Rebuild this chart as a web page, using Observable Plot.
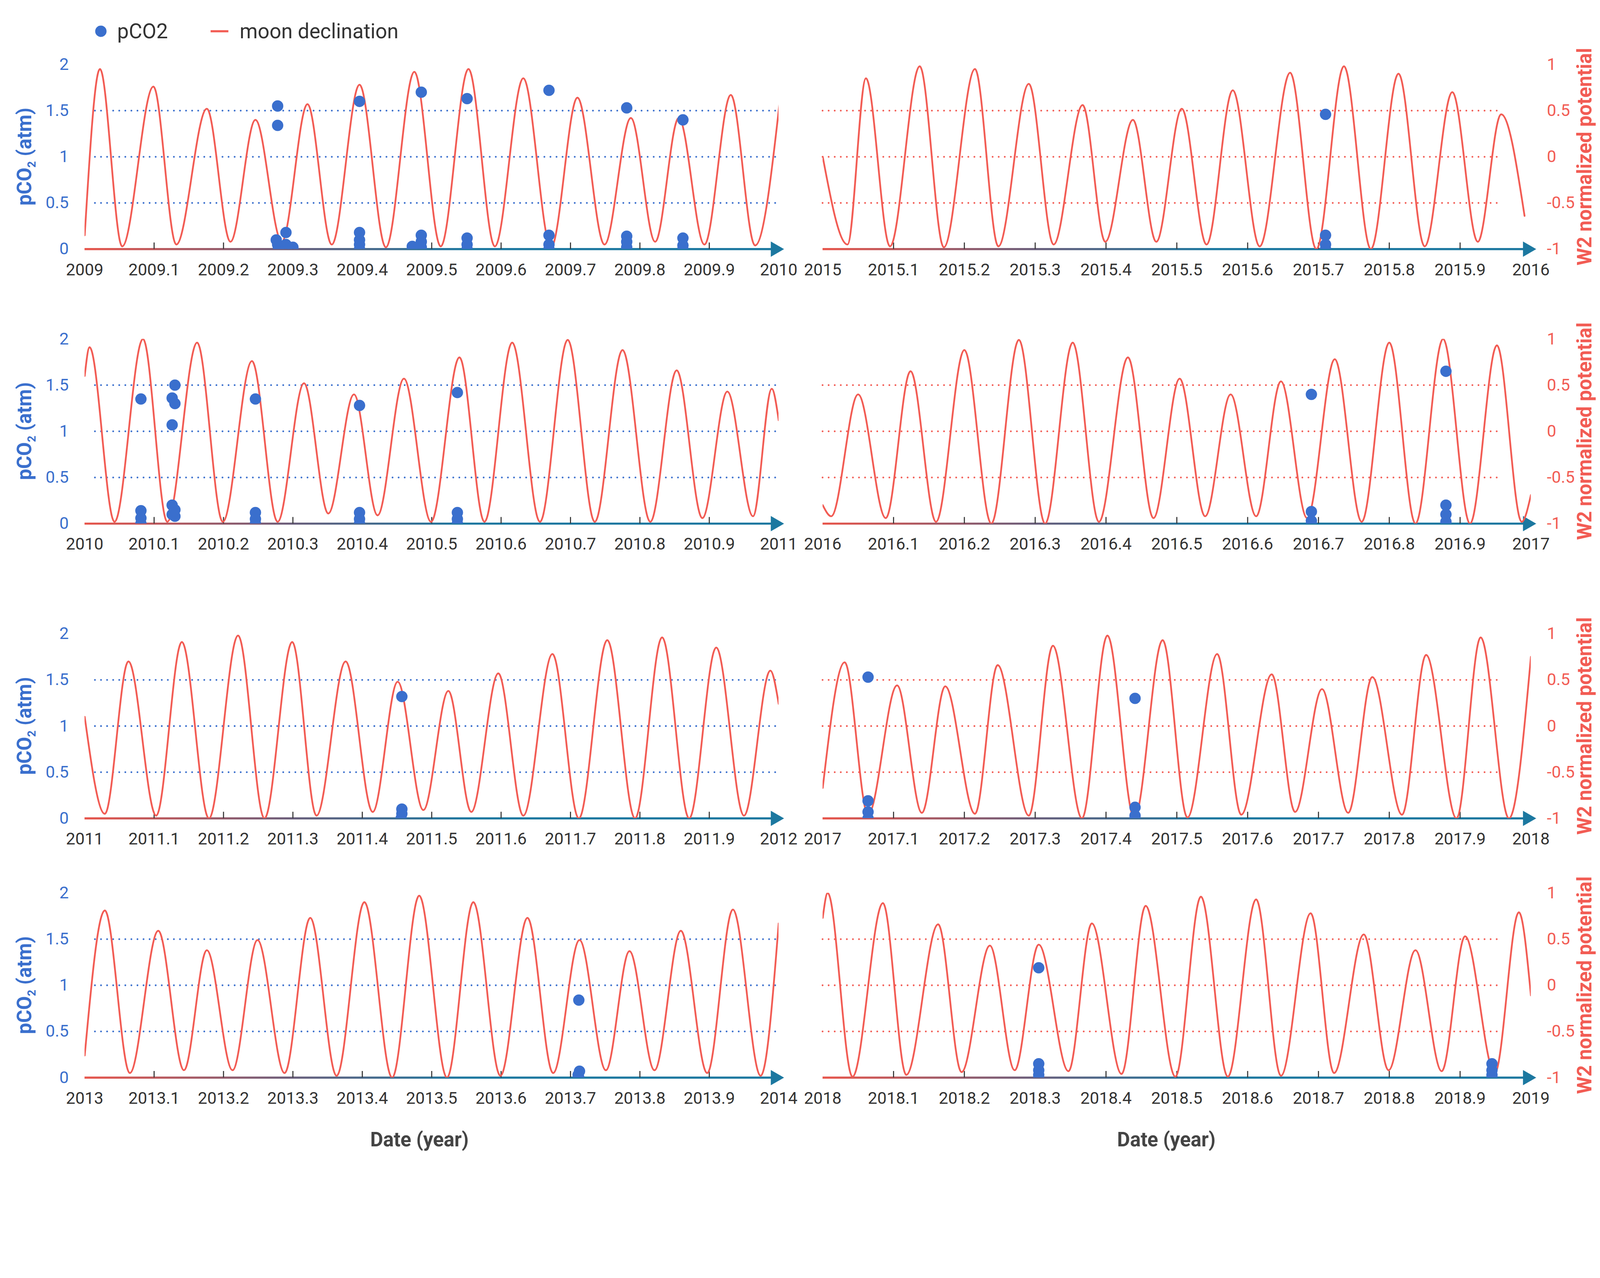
<!DOCTYPE html>
<html>
<head>
<meta charset="utf-8">
<script src="https://cdn.jsdelivr.net/npm/d3@7"></script>
<script src="https://cdn.jsdelivr.net/npm/@observablehq/plot@0.6"></script>
<style>
  html, body { margin: 0; background: #fff; font-family: Roboto, sans-serif; overflow: hidden; }
  #root { position: relative; width: 4505px; height: 3272px; overflow: hidden; transform-origin: 0 0; }
  .panel { position: absolute; }
  .title { position: absolute; font-weight: bold; font-size: 56px; white-space: nowrap; }
  .rot { transform: translate(-50%, -50%) rotate(-90deg); }
  .legend { position: absolute; top: 54px; left: 268px; font-size: 58px; color: #333; display: flex; align-items: center; }
</style>
</head>
<body>
<div id="root">
  <div class="legend">
    <span style="display:inline-block;width:32px;height:32px;border-radius:50%;background:#3a6fcd;margin-right:30px"></span>pCO2
    <span style="display:inline-block;width:50px;height:6px;background:#f25c54;margin:0 32px 0 120px"></span>moon declination
  </div>
</div>
<script>
// moon declination curve, extrema: [year, value]
// left panels are read on the pCO2 axis (0..2), right panels on the W2 axis (-1..1)
const moon2009 = [[2009.0,0.15],[2009.022,1.95],[2009.054,0.03],[2009.099,1.76],[2009.132,0.05],[2009.176,1.52],[2009.21,0.08],[2009.246,1.40],[2009.284,0.08],[2009.321,1.57],[2009.356,0.05],[2009.396,1.78],[2009.434,0.02],[2009.475,1.92],[2009.513,0.03],[2009.553,1.95],[2009.591,0.03],[2009.632,1.85],[2009.672,0.02],[2009.71,1.64],[2009.749,0.05],[2009.787,1.42],[2009.822,0.08],[2009.856,1.42],[2009.893,0.05],[2009.931,1.67],[2009.966,0.04],[2010.003,1.70]];
const moon2010 = [[2010.0,1.6],[2010.007,1.91],[2010.043,0.02],[2010.084,2.0],[2010.119,0.02],[2010.162,1.96],[2010.199,0.02],[2010.241,1.76],[2010.278,0.02],[2010.316,1.52],[2010.351,0.11],[2010.388,1.40],[2010.422,0.09],[2010.46,1.57],[2010.499,0.02],[2010.54,1.80],[2010.576,0.02],[2010.616,1.96],[2010.656,0.02],[2010.696,1.99],[2010.735,0.02],[2010.775,1.88],[2010.815,0.02],[2010.853,1.66],[2010.89,0.06],[2010.926,1.43],[2010.963,0.08],[2010.99,1.46],[2011.0,1.12]];
const moon2011 = [[2011.0,1.1],[2011.029,0.05],[2011.063,1.70],[2011.103,0.03],[2011.14,1.91],[2011.179,0.0],[2011.221,1.98],[2011.259,0.0],[2011.299,1.91],[2011.334,0.03],[2011.376,1.70],[2011.415,0.07],[2011.451,1.48],[2011.488,0.09],[2011.524,1.38],[2011.557,0.07],[2011.596,1.57],[2011.632,0.03],[2011.674,1.78],[2011.712,0.0],[2011.753,1.93],[2011.793,0.0],[2011.832,1.96],[2011.871,0.0],[2011.91,1.85],[2011.95,0.03],[2011.988,1.60],[2012.0,1.24]];
const moon2013 = [[2013.0,0.24],[2013.029,1.81],[2013.065,0.05],[2013.106,1.59],[2013.143,0.08],[2013.176,1.38],[2013.213,0.08],[2013.249,1.49],[2013.288,0.05],[2013.325,1.73],[2013.363,0.02],[2013.403,1.90],[2013.443,0.0],[2013.482,1.97],[2013.522,0.0],[2013.56,1.90],[2013.599,0.02],[2013.638,1.73],[2013.675,0.05],[2013.713,1.49],[2013.751,0.08],[2013.785,1.37],[2013.821,0.08],[2013.859,1.59],[2013.897,0.05],[2013.934,1.82],[2013.974,0.02],[2014.0,1.67]];
const moon2015 = [[2015.0,0.0],[2015.035,-0.95],[2015.061,0.85],[2015.095,-0.97],[2015.137,0.98],[2015.171,-0.98],[2015.215,0.95],[2015.248,-0.97],[2015.291,0.79],[2015.326,-0.95],[2015.367,0.56],[2015.399,-0.92],[2015.438,0.40],[2015.471,-0.92],[2015.507,0.52],[2015.542,-0.95],[2015.579,0.72],[2015.617,-0.97],[2015.66,0.91],[2015.697,-1.0],[2015.736,0.98],[2015.774,-1.0],[2015.813,0.90],[2015.85,-0.97],[2015.889,0.70],[2015.925,-0.92],[2015.958,0.46],[2015.991,-0.64]];
const moon2016 = [[2016.0,-0.80],[2016.012,-0.92],[2016.05,0.40],[2016.089,-0.94],[2016.124,0.65],[2016.16,-0.98],[2016.2,0.88],[2016.238,-1.0],[2016.277,0.99],[2016.314,-1.0],[2016.353,0.96],[2016.39,-0.98],[2016.431,0.80],[2016.467,-0.94],[2016.504,0.57],[2016.54,-0.92],[2016.576,0.40],[2016.612,-0.92],[2016.647,0.54],[2016.684,-0.94],[2016.723,0.78],[2016.761,-0.98],[2016.8,0.96],[2016.837,-1.0],[2016.876,1.0],[2016.914,-1.0],[2016.952,0.93],[2016.987,-0.98],[2017.0,-0.69]];
const moon2017 = [[2017.0,-0.67],[2017.031,0.69],[2017.064,-0.96],[2017.105,0.44],[2017.14,-0.94],[2017.173,0.43],[2017.215,-0.95],[2017.247,0.66],[2017.291,-0.97],[2017.325,0.87],[2017.366,-1.0],[2017.402,0.98],[2017.44,-1.0],[2017.48,0.93],[2017.515,-0.99],[2017.557,0.78],[2017.591,-0.96],[2017.634,0.56],[2017.667,-0.93],[2017.705,0.40],[2017.742,-0.94],[2017.776,0.53],[2017.818,-0.96],[2017.852,0.77],[2017.895,-1.0],[2017.929,0.96],[2017.969,-1.0],[2018.0,0.75]];
const moon2018 = [[2018.0,0.73],[2018.007,1.0],[2018.042,-0.99],[2018.085,0.89],[2018.118,-0.97],[2018.163,0.66],[2018.196,-0.94],[2018.236,0.43],[2018.271,-0.92],[2018.305,0.44],[2018.347,-0.93],[2018.38,0.67],[2018.422,-0.96],[2018.456,0.86],[2018.498,-0.99],[2018.534,0.96],[2018.572,-0.99],[2018.612,0.93],[2018.647,-0.98],[2018.689,0.78],[2018.722,-0.95],[2018.764,0.55],[2018.799,-0.92],[2018.837,0.38],[2018.874,-0.93],[2018.907,0.53],[2018.949,-0.95],[2018.983,0.79],[2019.0,-0.11]];

// pCO2 samples [year, atm]
const pco2_2009 = [[2009.278,1.55],[2009.278,1.34],[2009.276,0.1],[2009.278,0.05],[2009.279,0.02],[2009.28,0.0],[2009.29,0.18],[2009.29,0.05],[2009.29,0.0],[2009.3,0.02],[2009.3,0.0],[2009.396,1.60],[2009.396,0.18],[2009.396,0.1],[2009.396,0.05],[2009.396,0.0],[2009.472,0.03],[2009.472,0.0],[2009.485,1.70],[2009.485,0.15],[2009.485,0.08],[2009.485,0.02],[2009.551,1.63],[2009.551,0.12],[2009.551,0.05],[2009.551,0.0],[2009.669,1.72],[2009.669,0.15],[2009.669,0.05],[2009.669,0.0],[2009.781,1.53],[2009.781,0.14],[2009.781,0.08],[2009.781,0.02],[2009.862,1.40],[2009.862,0.12],[2009.862,0.04],[2009.862,0.0]];
const pco2_2010 = [[2010.081,1.35],[2010.081,0.14],[2010.081,0.06],[2010.081,0.0],[2010.126,1.36],[2010.126,1.07],[2010.126,0.2],[2010.126,0.1],[2010.13,1.50],[2010.13,1.30],[2010.13,0.15],[2010.13,0.08],[2010.246,1.35],[2010.246,0.12],[2010.246,0.05],[2010.246,0.0],[2010.396,1.28],[2010.396,0.12],[2010.396,0.05],[2010.396,0.0],[2010.537,1.42],[2010.537,0.12],[2010.537,0.05],[2010.537,0.0]];
const pco2_2011 = [[2011.457,1.32],[2011.457,0.1],[2011.457,0.05],[2011.456,0.0]];
const pco2_2013 = [[2013.712,0.84],[2013.713,0.07],[2013.711,0.03],[2013.712,0.0]];
const pco2_2015 = [[2015.71,1.46],[2015.71,0.15],[2015.71,0.05],[2015.71,0.0]];
const pco2_2016 = [[2016.69,1.40],[2016.69,0.13],[2016.69,0.03],[2016.69,0.0],[2016.88,1.65],[2016.88,0.20],[2016.88,0.10],[2016.88,0.02]];
const pco2_2017 = [[2017.064,1.53],[2017.064,0.19],[2017.064,0.07],[2017.064,0.0],[2017.441,1.30],[2017.441,0.12],[2017.441,0.03],[2017.441,0.0]];
const pco2_2018 = [[2018.305,1.19],[2018.305,0.15],[2018.305,0.08],[2018.305,0.03],[2018.305,0.0],[2018.945,0.15],[2018.945,0.08],[2018.945,0.03],[2018.945,0.0]];

const panels = [
  {year: 2009, side: "left", top: 181, moon: moon2009, pco2: pco2_2009},
  {year: 2015, side: "right", top: 181, moon: moon2015, pco2: pco2_2015},
  {year: 2010, side: "left", top: 954, moon: moon2010, pco2: pco2_2010},
  {year: 2016, side: "right", top: 954, moon: moon2016, pco2: pco2_2016},
  {year: 2011, side: "left", top: 1784, moon: moon2011, pco2: pco2_2011},
  {year: 2017, side: "right", top: 1784, moon: moon2017, pco2: pco2_2017},
  {year: 2013, side: "left", top: 2514, moon: moon2013, pco2: pco2_2013},
  {year: 2018, side: "right", top: 2514, moon: moon2018, pco2: pco2_2018}
];

const RED = "#f25c54", BLUE = "#3a6fcd", TEAL = "#1c78a0";
const root = document.getElementById("root");
const marginTop = 40, plotH = 520, marginBottom = 110;

// fit the fixed-size page to the window
const s = Math.min(window.innerWidth / 4505, window.innerHeight / 3272);
if (s < 0.999) root.style.transform = `scale(${s})`;

panels.forEach((p, i) => {
  const left = p.side === "left";
  const y0 = left ? 0 : -1;            // bottom of y domain
  const ticksX = d3.range(1, 10).map(k => p.year + k / 10);
  const labelsX = d3.range(0, 11).map(k => p.year + k / 10);
  const grid = left ? [0.5, 1, 1.5] : [-0.5, 0, 0.5];
  const gridColor = left ? BLUE : RED;

  const chart = Plot.plot({
    width: left ? 2250 : 2255,
    height: marginTop + plotH + marginBottom,
    marginTop,
    marginBottom,
    marginLeft: left ? 238 : 66,
    marginRight: left ? 58 : 195,
    style: {fontFamily: "Roboto, sans-serif", fontSize: "47px", overflow: "visible"},
    x: {domain: [p.year, p.year + 1]},
    y: {domain: left ? [0, 2] : [-1, 1]},
    marks: [
      Plot.ruleY(grid, {x1: p.year + (left ? 0.015 : 0), x2: p.year + (left ? 1 : 0.96), stroke: gridColor, strokeWidth: 5, strokeDasharray: "0.1,17", strokeLinecap: "round"}),
      Plot.ruleY([y0], {x1: p.year, x2: p.year + 0.995, stroke: TEAL, strokeWidth: 6, className: "xline" + i}),
      Plot.dot([y0], {x: p.year + 0.995, y: d => d, symbol: "triangle", rotate: 90, r: 16, fill: TEAL}),
      Plot.ruleX(ticksX, {y1: y0, y2: y0 + 0.07, stroke: "#333", strokeWidth: 3}),
      Plot.axisX(labelsX, {tickSize: 0, tickPadding: 40, tickFormat: d => String(+d.toFixed(1)), fill: "#333", label: null}),
      left
        ? Plot.axisY([0, 0.5, 1, 1.5, 2], {anchor: "left", tickSize: 0, tickPadding: 45, fill: BLUE, label: null, tickFormat: d => String(d)})
        : Plot.axisY([-1, -0.5, 0, 0.5, 1], {anchor: "right", tickSize: 0, tickPadding: 45, fill: RED, label: null, textAnchor: "start", tickFormat: d => String(d)}),
      Plot.line(p.moon, {x: d => d[0], y: d => d[1], curve: "monotone-x", stroke: RED, strokeWidth: 5, clip: true}),
      Plot.dot(p.pco2, {x: d => d[0], y: d => left ? d[1] : d[1] - 1, r: 16, fill: BLUE, clip: true})
    ]
  });

  // gradient on the x-axis line: red on the left fading into teal
  const x = chart.scale("x");
  const id = "grad" + i;
  const svg = d3.select(chart);
  const grad = svg.append("defs").append("linearGradient")
    .attr("id", id).attr("gradientUnits", "userSpaceOnUse")
    .attr("x1", x.apply(p.year)).attr("x2", x.apply(p.year + 1)).attr("y1", 0).attr("y2", 0);
  grad.append("stop").attr("offset", "0").attr("stop-color", "#e8564c");
  grad.append("stop").attr("offset", "0.3").attr("stop-color", "#6a5f7c");
  grad.append("stop").attr("offset", "0.55").attr("stop-color", TEAL);
  grad.append("stop").attr("offset", "1").attr("stop-color", TEAL);
  svg.selectAll(".xline" + i + " line").attr("stroke", `url(#${id})`);

  const div = document.createElement("div");
  div.className = "panel";
  div.style.left = (left ? 0 : 2250) + "px";
  div.style.top = (p.top - marginTop) + "px";
  div.appendChild(chart);
  root.appendChild(div);

  // axis titles
  const t = document.createElement("div");
  t.className = "title rot";
  t.style.top = (p.top + plotH / 2) + "px";
  if (left) {
    t.style.left = "72px";
    t.style.color = BLUE;
    t.innerHTML = "pCO<sub style='font-size:32px'>2</sub> (atm)";
  } else {
    t.style.left = "4462px";
    t.style.color = RED;
    t.textContent = "W2 normalized potential";
  }
  root.appendChild(t);
});

[[1181, "Date (year)"], [3284, "Date (year)"]].forEach(([cx, s]) => {
  const t = document.createElement("div");
  t.className = "title";
  t.style.left = cx + "px";
  t.style.top = "3209px";
  t.style.transform = "translate(-50%, -50%)";
  t.style.color = "#444";
  t.textContent = s;
  root.appendChild(t);
});
</script>
</body>
</html>
